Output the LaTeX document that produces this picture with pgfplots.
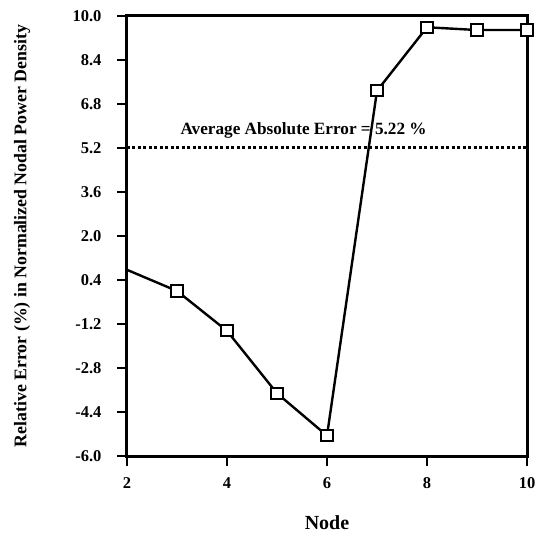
\documentclass[border=0pt]{standalone}
\usepackage{pgfplots}
\pgfplotsset{compat=1.18}
\usepackage{fontspec}
\setmainfont{Liberation Serif}
\begin{document}
\begin{tikzpicture}
\begin{axis}[
  scale only axis,
  width=400pt, height=440pt,
  xmin=2, xmax=10, ymin=-6, ymax=10,
  xtick={2,4,6,8,10},
  ytick={-6.0,-4.4,-2.8,-1.2,0.4,2.0,3.6,5.2,6.8,8.4,10.0},
  yticklabels={-6.0,-4.4,-2.8,-1.2,0.4,2.0,3.6,5.2,6.8,8.4,10.0},
  xtick pos=left, ytick pos=left,
  tick align=outside,
  major tick length=10pt,
  every tick/.style={line width=2pt, black},
  axis line style={line width=3pt},
  /pgf/number format/assume math mode=true,
  tick label style={font=\fontsize{16.5}{18}\selectfont\bfseries},
  yticklabel style={xshift=-12pt},
  xticklabel style={yshift=-8pt},
  xlabel={Node},
  ylabel={Relative Error (\%) in Normalized Nodal Power Density},
  xlabel style={font=\fontsize{20}{22}\selectfont\bfseries, at={(axis description cs:0.5,0)}, anchor=center, yshift=-67pt},
  ylabel style={font=\fontsize{17.8}{20}\selectfont\bfseries, at={(axis description cs:0,0.5)}, anchor=center, yshift=105pt},
  clip=false,
]
\addplot[black, line width=2.4pt, no marks] coordinates {(2,0.77)(3,0.0)};
\addplot[black, line width=2.4pt, mark=square*, mark size=5.6pt,
  mark options={fill=white, draw=black, line width=2pt}]
  coordinates {(3,0.0)(4,-1.45)(5,-3.72)(6,-5.26)(7,7.28)(8,9.59)(9,9.49)(10,9.49)};
\addplot[black, line width=2.2pt, dash pattern=on 3pt off 2.5pt, no marks] coordinates {(2,5.22)(10,5.22)};
\node[anchor=west, font=\fontsize{17.2}{19}\selectfont\bfseries] at (axis cs:3.0,5.85) {Average Absolute Error = 5.22 \%};
\end{axis}
\path[use as bounding box] (-127pt,-85pt) rectangle (413pt,456pt);
\end{tikzpicture}
\end{document}
